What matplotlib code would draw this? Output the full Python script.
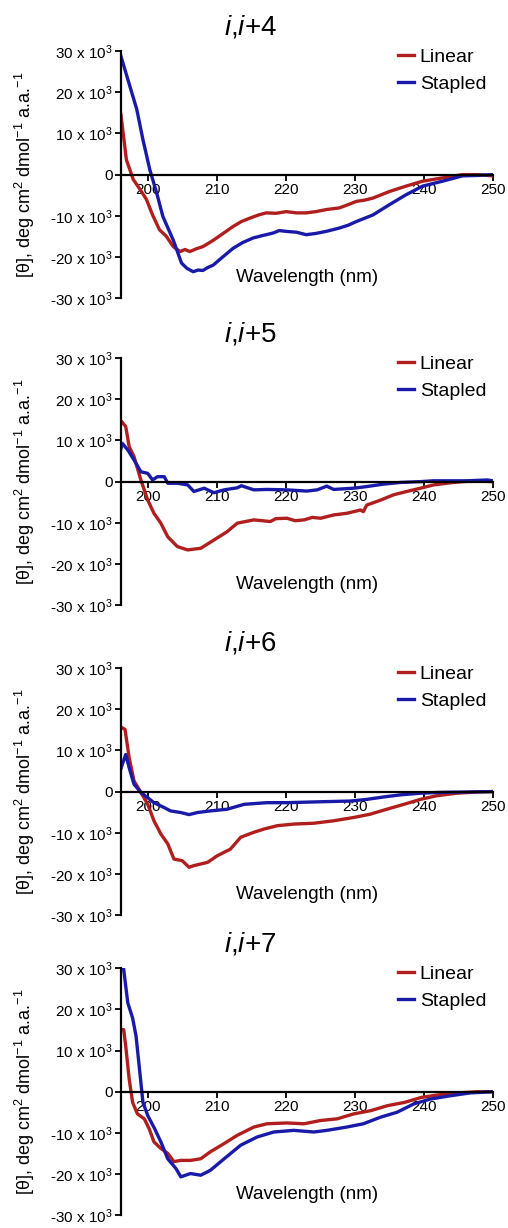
import matplotlib
matplotlib.use("Agg")
import matplotlib.pyplot as plt

plt.rcParams['font.family'] = ['Liberation Sans', 'DejaVu Sans']
plt.rcParams['mathtext.fontset'] = 'custom'
plt.rcParams['mathtext.rm'] = 'Liberation Sans'
plt.rcParams['mathtext.it'] = 'Liberation Sans:italic'

# CD spectra, mean residue ellipticity in units of 10^3 deg cm2 dmol-1 a.a.-1
titles = [r"$i$,$i$+4", r"$i$,$i$+5", r"$i$,$i$+6", r"$i$,$i$+7"]

# i,i+4
lin4_wl = [196.0, 196.8, 197.8, 198.7, 199.7, 200.6, 201.6, 202.6, 203.6, 204.6, 205.3, 206.0, 207.0, 207.9,
           208.9, 209.9, 211.1, 212.3, 213.5, 214.7, 216.0, 217.1, 218.5, 220.0, 221.5, 222.9, 224.3, 225.8,
           227.7, 229.0, 230.2, 231.4, 232.6, 235.0, 237.4, 239.8, 242.7, 245.6, 247.8, 250.0]
lin4_val = [14.6, 3.6, -1.2, -3.4, -6.0, -9.8, -13.4, -15.0, -17.5, -18.7, -18.2, -18.7, -18.0, -17.5,
            -16.5, -15.4, -14.0, -12.6, -11.4, -10.6, -9.8, -9.3, -9.4, -9.0, -9.3, -9.3, -9.0, -8.5,
            -8.1, -7.3, -6.5, -6.2, -5.7, -4.1, -2.8, -1.6, -0.8, 0.0, 0.0, -0.3]
stp4_wl = [196.0, 197.3, 198.3, 199.2, 200.2, 201.2, 202.1, 203.6, 204.8, 205.6, 206.5, 207.2, 207.9, 208.6,
           209.4, 210.8, 212.3, 213.7, 215.2, 216.6, 218.1, 219.0, 220.0, 221.5, 222.9, 224.3, 225.8, 227.7,
           229.0, 230.2, 232.6, 235.0, 237.4, 239.8, 242.7, 245.6, 247.8, 250.0]
stp4_val = [28.8, 21.5, 15.9, 8.5, 1.2, -4.5, -10.2, -15.9, -21.5, -22.8, -23.6, -23.2, -23.3, -22.6,
            -22.0, -20.0, -17.9, -16.5, -15.4, -14.8, -14.2, -13.6, -13.8, -14.0, -14.6, -14.3, -13.8, -13.0,
            -12.3, -11.4, -9.8, -7.3, -4.9, -2.8, -1.6, -0.3, -0.2, 0.0]

# i,i+5
lin5_wl = [196.1, 196.7, 197.2, 197.9, 198.9, 199.9, 200.8, 201.8, 202.8, 204.2, 205.7, 207.6, 209.5, 211.4,
           212.9, 215.3, 217.7, 218.5, 220.1, 221.3, 222.6, 223.8, 225.0, 226.9, 228.8, 230.8, 231.2, 231.7,
           233.7, 235.6, 237.5, 239.5, 241.4, 244.3, 247.2, 250.0]
lin5_val = [14.6, 13.4, 8.5, 6.1, 0.4, -4.5, -7.7, -10.1, -13.4, -15.8, -16.6, -16.2, -14.2, -12.2,
            -10.1, -9.3, -9.7, -9.0, -8.9, -9.5, -9.3, -8.7, -8.9, -8.1, -7.7, -6.9, -7.3, -5.7,
            -4.5, -3.2, -2.4, -1.6, -0.8, -0.2, 0.2, 0.0]
stp5_wl = [195.9, 196.2, 197.0, 197.9, 198.9, 199.9, 200.6, 201.3, 202.3, 202.8, 204.2, 205.7, 206.6, 208.1,
           209.5, 211.0, 212.9, 213.5, 215.3, 217.2, 220.1, 223.0, 224.5, 225.9, 226.9, 229.8, 231.7, 234.2,
           236.6, 239.5, 241.4, 246.2, 249.2, 250.0]
stp5_val = [7.3, 9.3, 7.7, 5.3, 2.4, 2.0, 0.4, 1.2, 1.2, -0.4, -0.4, -0.8, -2.4, -1.6,
            -2.7, -2.0, -1.5, -1.0, -2.0, -1.9, -2.0, -2.3, -2.0, -1.1, -1.9, -1.6, -1.2, -0.6,
            -0.2, 0.0, 0.2, 0.2, 0.4, 0.2]

# i,i+6
lin6_wl = [196.2, 196.6, 197.2, 197.9, 198.9, 199.9, 200.8, 201.8, 202.8, 203.7, 204.9, 205.9, 206.6, 207.6,
           208.6, 210.0, 211.9, 213.4, 215.3, 216.8, 218.7, 221.1, 224.0, 226.9, 229.8, 232.2, 234.6, 237.1,
           239.5, 241.9, 244.8, 247.7, 250.0]
lin6_val = [15.5, 15.1, 8.2, 2.6, -0.2, -3.1, -7.1, -10.3, -12.7, -16.4, -16.8, -18.4, -18.0, -17.6,
            -17.2, -15.6, -14.0, -11.1, -9.9, -9.1, -8.3, -7.9, -7.7, -7.1, -6.3, -5.5, -4.3, -3.1,
            -1.9, -1.0, -0.4, -0.1, 0.0]
stp6_wl = [195.9, 196.2, 196.7, 197.2, 197.9, 198.9, 199.9, 200.8, 202.3, 203.2, 204.7, 205.9, 207.1, 209.0,
           211.4, 213.9, 217.2, 220.1, 224.5, 229.3, 231.7, 234.2, 236.6, 239.5, 242.4, 246.3, 250.0]
stp6_val = [5.0, 6.6, 9.0, 5.8, 1.8, -0.2, -1.5, -2.7, -3.9, -4.7, -5.1, -5.6, -5.1, -4.7,
            -4.3, -3.1, -2.7, -2.7, -2.5, -2.3, -1.9, -1.3, -0.8, -0.4, -0.2, -0.1, 0.0]

# i,i+7
lin7_wl = [196.0, 196.4, 196.7, 197.2, 197.7, 198.4, 199.4, 200.1, 200.8, 201.8, 202.8, 203.7, 204.7, 206.1,
           207.6, 209.0, 211.0, 212.9, 215.3, 217.2, 220.1, 222.6, 225.0, 227.4, 229.8, 232.3, 234.7, 237.2,
           239.6, 242.0, 244.9, 247.8, 250.0]
lin7_val = [15.1, 15.1, 11.1, 3.1, -2.6, -5.4, -6.6, -9.0, -12.2, -13.8, -15.0, -17.0, -16.7, -16.7,
            -16.3, -14.6, -12.6, -10.6, -8.6, -7.8, -7.6, -7.8, -7.0, -6.6, -5.4, -4.6, -3.4, -2.6,
            -1.4, -0.8, -0.3, 0.0, 0.0]
stp7_wl = [196.4, 197.0, 197.7, 198.2, 198.7, 199.2, 199.9, 200.9, 201.8, 202.8, 204.0, 204.7, 206.1, 207.6,
           209.0, 211.0, 213.4, 215.8, 218.2, 221.1, 224.0, 225.9, 228.8, 231.2, 233.7, 236.1, 238.5, 240.9,
           243.8, 246.7, 250.0]
stp7_val = [29.8, 21.6, 17.9, 13.5, 5.5, -2.6, -5.8, -9.0, -12.2, -16.3, -18.7, -20.7, -19.9, -20.3,
            -19.1, -16.3, -13.0, -11.0, -9.8, -9.4, -9.8, -9.4, -8.6, -7.8, -6.2, -5.0, -3.0, -1.8,
            -1.0, -0.3, 0.0]

panels = [
    (lin4_wl, lin4_val, stp4_wl, stp4_val),
    (lin5_wl, lin5_val, stp5_wl, stp5_val),
    (lin6_wl, lin6_val, stp6_wl, stp6_val),
    (lin7_wl, lin7_val, stp7_wl, stp7_val),
]

x_ticks = [200, 210, 220, 230, 240, 250]
y_ticks = [-30, -20, -10, 0, 10, 20, 30]
y_ticklabels = ["-30 x 10$^3$", "-20 x 10$^3$", "-10 x 10$^3$", "0", "10 x 10$^3$", "20 x 10$^3$", "30 x 10$^3$"]

red = "#B01E1E"
blue = "#1A1AA8"

fig = plt.figure(figsize=(5.08, 12.28), dpi=100)
bottoms = [0.7573, 0.5073, 0.2549, 0.0105]

for i, (lw_x, lw_y, sw_x, sw_y) in enumerate(panels):
    ax = fig.add_axes([0.238, bottoms[i], 0.732, 0.201])
    ax.plot(lw_x, lw_y, color=red, lw=2.4, label="Linear")
    ax.plot(sw_x, sw_y, color=blue, lw=2.4, label="Stapled")
    ax.set_xlim(196, 250)
    ax.set_ylim(-30, 30)

    ax.spines['top'].set_visible(False)
    ax.spines['right'].set_visible(False)
    ax.spines['bottom'].set_position(('data', 0))
    ax.spines['left'].set_linewidth(1.6)
    ax.spines['bottom'].set_linewidth(1.6)

    ax.set_xticks(x_ticks)
    ax.set_yticks(y_ticks)
    ax.set_yticklabels(y_ticklabels)
    ax.tick_params(axis='x', direction='out', length=4, width=1.3, labelsize=11, pad=2)
    ax.tick_params(axis='y', direction='out', length=4, width=1.3, labelsize=11, pad=2)

    # y label drawn as plain text so its centre sits where the reference has it
    ax.text(-0.258, 0.5, "[θ], deg cm$^2$ dmol$^{-1}$ a.a.$^{-1}$", transform=ax.transAxes,
            rotation=90, ha='center', va='center', fontsize=13)
    ax.text(0.5, 0.085, "Wavelength (nm)", transform=ax.transAxes, ha='center', va='center', fontsize=13.5)
    ax.text(0.347, 1.1, titles[i], transform=ax.transAxes, ha='center', va='center', fontsize=20)

    ax.legend(loc='upper left', bbox_to_anchor=(0.72, 1.05), frameon=False, fontsize=14,
              handlelength=0.8, handletextpad=0.3, labelspacing=0.45, borderpad=0)

fig.savefig("out.png", dpi=100)
